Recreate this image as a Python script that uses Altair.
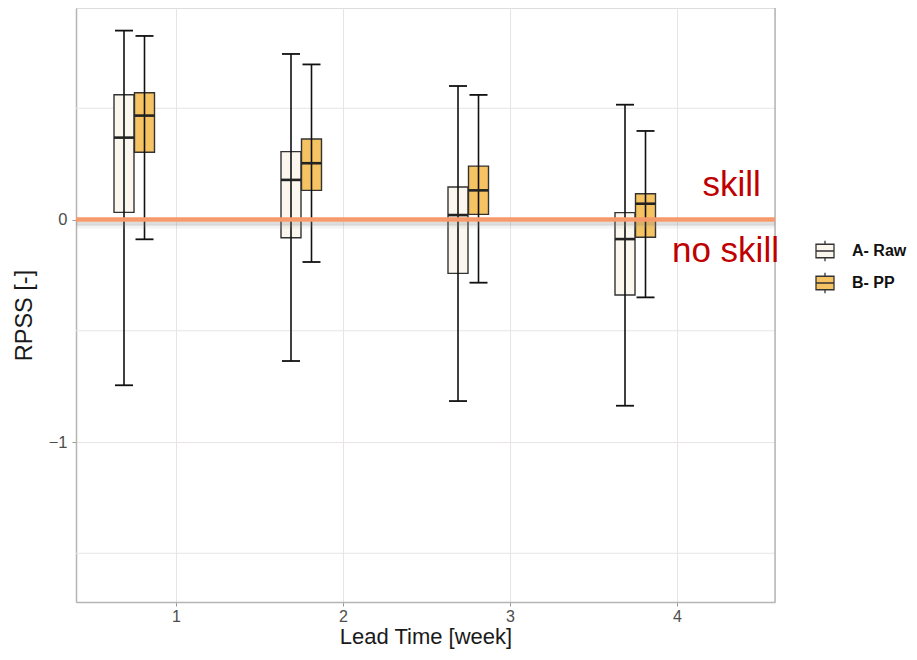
import altair as alt
import pandas as pd

# ---- data ----
lead = [1, 2, 3, 4]
series_names = ["A- Raw", "B- PP"]

raw_low = [-0.745, -0.636, -0.816, -0.837]
raw_q1 = [0.032, -0.082, -0.242, -0.339]
raw_med = [0.368, 0.178, 0.020, -0.088]
raw_q3 = [0.561, 0.305, 0.146, 0.031]
raw_high = [0.849, 0.744, 0.600, 0.516]

pp_low = [-0.089, -0.191, -0.284, -0.350]
pp_q1 = [0.302, 0.131, 0.023, -0.080]
pp_med = [0.467, 0.253, 0.131, 0.071]
pp_q3 = [0.570, 0.362, 0.240, 0.116]
pp_high = [0.825, 0.697, 0.560, 0.398]

major_y = [0, -1]
minor_y = [0.5, -0.5, -1.5]
x_ticks = [1, 2, 3, 4]

annot_text = ["skill", "no skill"]
annot_x = [4.327, 4.29]
annot_y = [0.106, -0.19]

# ---- styles ----
FONT = "Liberation Sans"
fills = ["#fbf7ee", "#f6c363"]
offsets = {"A- Raw": -52, "B- PP": -31.5}
half_box = 10
half_cap = 9
STROKE = "#333333"
GRID = "#e8e4e4"
BORDER = "#b8b4b4"

x_dom = [0.4012, 4.5868]
y_dom = [-1.7191, 0.9506]

xs = alt.Scale(domain=x_dom, nice=False, zero=False)
ys = alt.Scale(domain=y_dom, nice=False, zero=False)

legend_path = "M-1,-0.75H1V0.75H-1Z M-1,0H1 M0,-0.75V-1.15 M0,0.75V1.15"

color_scale = alt.Scale(domain=series_names, range=fills)

frames = {
    "A- Raw": pd.DataFrame({"lead": lead, "low": raw_low, "q1": raw_q1, "med": raw_med,
                            "q3": raw_q3, "high": raw_high, "series": "A- Raw"}),
    "B- PP": pd.DataFrame({"lead": lead, "low": pp_low, "q1": pp_q1, "med": pp_med,
                           "q3": pp_q3, "high": pp_high, "series": "B- PP"}),
}

X = alt.X("lead:Q", scale=xs,
          axis=alt.Axis(values=x_ticks, title="Lead Time [week]", grid=True,
                        gridColor=GRID, domain=True, domainColor=BORDER, domainWidth=1.5,
                        tickColor="#999999", tickSize=4,
                        labelFontSize=16, labelColor="#4d4d4d", labelPadding=2,
                        titleFontSize=22, titleFontWeight="normal", titleColor="#1a1a1a",
                        titlePadding=2, labelFont=FONT, titleFont=FONT, format="d"))

minor_df = pd.DataFrame({"y": minor_y})
minor = alt.Chart(minor_df).mark_rule(color=GRID, strokeWidth=1).encode(
    y=alt.Y("y:Q", scale=ys,
            axis=alt.Axis(values=major_y, title="RPSS [-]", grid=True, gridColor=GRID,
                          domain=True, domainColor=BORDER, domainWidth=1.5,
                          tickColor="#999999", tickSize=4, format="d",
                          labelFontSize=16.5, labelColor="#4d4d4d", labelPadding=5,
                          titleFontSize=23.5, titleFontWeight="normal", titleColor="#1a1a1a",
                          titleX=-45, titleY=307, titleBaseline="alphabetic",
                          labelFont=FONT, titleFont=FONT))
)

right_df = pd.DataFrame({"x": [x_dom[1]]})
right_border = alt.Chart(right_df).mark_rule(color=BORDER, strokeWidth=1.5).encode(
    x=alt.X("x:Q", scale=xs))

layers = [minor, right_border]

for name in series_names:
    df = frames[name]
    o = offsets[name]
    base = alt.Chart(df)
    box = base.mark_rect(xOffset=o - half_box, x2Offset=o + half_box, stroke=STROKE,
                         strokeWidth=1.4).encode(
        x=X, x2="lead:Q",
        y=alt.Y("q1:Q", scale=ys), y2="q3:Q",
        fill=alt.Fill("series:N", scale=color_scale,
                      legend=alt.Legend(title=None, orient="none", legendX=739, legendY=233,
                                        symbolType=legend_path, symbolSize=324,
                                        symbolStrokeColor=STROKE, symbolStrokeWidth=1.3,
                                        labelFontWeight="bold", labelFontSize=16,
                                        labelColor="#111111", labelFont=FONT,
                                        labelOffset=17, rowPadding=6, padding=0))
    )
    whisk = base.mark_rule(xOffset=o, color="#111111", strokeWidth=1.6).encode(
        x=alt.X("lead:Q", scale=xs), y=alt.Y("low:Q", scale=ys), y2="high:Q")
    cap_hi = base.mark_rule(xOffset=o - half_cap, x2Offset=o + half_cap, color="#111111",
                            strokeWidth=1.8).encode(
        x=alt.X("lead:Q", scale=xs), x2="lead:Q", y=alt.Y("high:Q", scale=ys))
    cap_lo = base.mark_rule(xOffset=o - half_cap, x2Offset=o + half_cap, color="#111111",
                            strokeWidth=1.8).encode(
        x=alt.X("lead:Q", scale=xs), x2="lead:Q", y=alt.Y("low:Q", scale=ys))
    med = base.mark_rule(xOffset=o - half_box, x2Offset=o + half_box, color="#222222",
                         strokeWidth=2.6).encode(
        x=alt.X("lead:Q", scale=xs), x2="lead:Q", y=alt.Y("med:Q", scale=ys))
    layers += [box, whisk, cap_hi, cap_lo, med]

zero_df = pd.DataFrame({"y": [0]})
shadow1 = alt.Chart(zero_df).mark_rule(color="#777777", strokeWidth=4, opacity=0.25,
                                       yOffset=4).encode(y=alt.Y("y:Q", scale=ys))
shadow2 = alt.Chart(zero_df).mark_rule(color="#999999", strokeWidth=4, opacity=0.12,
                                       yOffset=7).encode(y=alt.Y("y:Q", scale=ys))
zero = alt.Chart(zero_df).mark_rule(color="#f79a6b", strokeWidth=4.5).encode(
    y=alt.Y("y:Q", scale=ys))

annot_df = pd.DataFrame({"t": annot_text, "x": annot_x, "y": annot_y})
annot = alt.Chart(annot_df).mark_text(fontSize=35, color="#c00000", font=FONT,
                                      align="center", baseline="alphabetic").encode(
    x=alt.X("x:Q", scale=xs), y=alt.Y("y:Q", scale=ys), text="t:N")

layers += [shadow2, shadow1, zero, annot]

chart = alt.layer(*layers).properties(
    width=699, height=594,
    autosize=alt.AutoSizeParams(type="none"),
    padding={"left": 68, "top": 0, "right": 134, "bottom": 50},
).configure_view(stroke=None).configure(background="white")

chart.save("out.html", embed_options={"renderer": "svg", "actions": False})
